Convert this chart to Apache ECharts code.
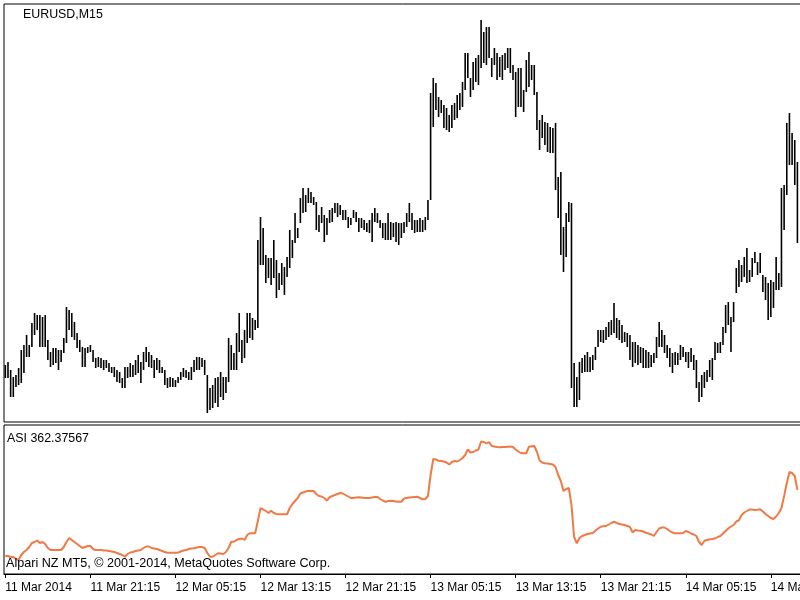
<!DOCTYPE html>
<html>
<head>
<meta charset="utf-8">
<script src="https://cdn.jsdelivr.net/npm/echarts@6/dist/echarts.min.js"></script>
<style>html,body{margin:0;padding:0;background:#fff;}#c{width:800px;height:600px;}</style>
</head>
<body>
<div id="c"></div>
<script>
// ---- data (EURUSD M15, starting 11 Mar 2014 13:15) ----
const startTime = Date.UTC(2014, 2, 11, 13, 15);
const tickLabels = ['11 Mar 2014','11 Mar 21:15','12 Mar 05:15','12 Mar 13:15','12 Mar 21:15','13 Mar 05:15','13 Mar 13:15','13 Mar 21:15','14 Mar 05:15','14 Mar 13:15'];

const highs = [
1.38620,1.38629,1.38605,1.38584,1.38590,1.38611,1.38665,1.38680,1.38710,1.38680,
1.38746,1.38776,1.38770,1.38770,1.38764,1.38770,1.38695,1.38659,1.38671,1.38671,
1.38665,1.38665,1.38701,1.38794,1.38785,1.38776,1.38749,1.38716,1.38695,1.38674,
1.38671,1.38674,1.38680,1.38665,1.38641,1.38644,1.38641,1.38635,1.38635,1.38626,
1.38614,1.38614,1.38605,1.38599,1.38581,1.38614,1.38614,1.38626,1.38620,1.38635,
1.38650,1.38629,1.38659,1.38674,1.38659,1.38650,1.38635,1.38641,1.38635,1.38614,
1.38605,1.38581,1.38584,1.38581,1.38575,1.38584,1.38599,1.38611,1.38605,1.38599,
1.38614,1.38635,1.38644,1.38644,1.38641,1.38635,1.38590,1.38551,1.38560,1.38581,
1.38584,1.38599,1.38584,1.38584,1.38701,1.38680,1.38656,1.38716,1.38776,1.38695,
1.38725,1.38776,1.38776,1.38761,1.38755,1.38995,1.39064,1.39031,1.38950,1.38941,
1.38941,1.38995,1.38935,1.38896,1.38926,1.38914,1.38944,1.39025,1.38995,1.39076,
1.39031,1.39121,1.39151,1.39130,1.39151,1.39139,1.39124,1.39109,1.39070,1.39094,
1.39070,1.39061,1.39085,1.39091,1.39106,1.39106,1.39100,1.39085,1.39085,1.39064,
1.39061,1.39085,1.39079,1.39061,1.39061,1.39055,1.39046,1.39055,1.39076,1.39091,
1.39076,1.39055,1.39046,1.39046,1.39076,1.39049,1.39046,1.39049,1.39046,1.39046,
1.39049,1.39076,1.39106,1.39076,1.39055,1.39055,1.39061,1.39055,1.39064,1.39115,
1.39436,1.39481,1.39466,1.39424,1.39415,1.39400,1.39391,1.39370,1.39400,1.39406,
1.39430,1.39436,1.39469,1.39556,1.39556,1.39481,1.39529,1.39541,1.39550,1.39655,
1.39619,1.39634,1.39634,1.39541,1.39571,1.39556,1.39544,1.39550,1.39556,1.39571,
1.39571,1.39520,1.39499,1.39511,1.39511,1.39445,1.39535,1.39559,1.39520,1.39520,
1.39439,1.39355,1.39370,1.39349,1.39346,1.39334,1.39331,1.39346,1.39184,1.39199,
1.39034,1.39076,1.39109,1.39106,1.38626,1.38584,1.38629,1.38641,1.38650,1.38659,
1.38644,1.38650,1.38674,1.38725,1.38725,1.38725,1.38734,1.38749,1.38755,1.38806,
1.38761,1.38755,1.38740,1.38719,1.38716,1.38710,1.38689,1.38689,1.38680,1.38674,
1.38671,1.38665,1.38659,1.38650,1.38656,1.38704,1.38749,1.38725,1.38710,1.38680,
1.38671,1.38656,1.38659,1.38656,1.38680,1.38674,1.38659,1.38659,1.38671,1.38650,
1.38635,1.38569,1.38590,1.38599,1.38605,1.38635,1.38641,1.38689,1.38686,1.38689,
1.38734,1.38800,1.38809,1.38764,1.38809,1.38911,1.38935,1.38920,1.38944,1.38971,
1.38905,1.38941,1.38959,1.38929,1.38956,1.38890,1.38884,1.38866,1.38875,1.38869,
1.38944,1.38896,1.39151,1.39160,1.39346,1.39376,1.39316,1.39295,1.39229
];
const lows = [
1.38581,1.38581,1.38524,1.38524,1.38554,1.38560,1.38566,1.38596,1.38644,1.38644,
1.38674,1.38710,1.38725,1.38674,1.38674,1.38674,1.38635,1.38614,1.38620,1.38626,
1.38605,1.38629,1.38656,1.38686,1.38725,1.38704,1.38695,1.38671,1.38659,1.38614,
1.38614,1.38656,1.38659,1.38629,1.38611,1.38614,1.38611,1.38605,1.38611,1.38599,
1.38596,1.38584,1.38569,1.38566,1.38551,1.38551,1.38581,1.38584,1.38584,1.38590,
1.38596,1.38566,1.38605,1.38629,1.38614,1.38611,1.38581,1.38605,1.38596,1.38596,
1.38560,1.38551,1.38554,1.38554,1.38554,1.38566,1.38575,1.38584,1.38581,1.38575,
1.38575,1.38599,1.38605,1.38605,1.38614,1.38590,1.38476,1.38485,1.38491,1.38506,
1.38494,1.38524,1.38515,1.38536,1.38569,1.38605,1.38605,1.38605,1.38659,1.38626,
1.38641,1.38686,1.38701,1.38695,1.38725,1.38731,1.38920,1.38920,1.38866,1.38881,
1.38860,1.38881,1.38821,1.38845,1.38860,1.38830,1.38884,1.38911,1.38941,1.38986,
1.39001,1.39046,1.39076,1.39079,1.39106,1.39106,1.39100,1.39025,1.39019,1.39046,
1.38989,1.39010,1.39046,1.39049,1.39076,1.39064,1.39070,1.39055,1.39055,1.39031,
1.39040,1.39061,1.39049,1.39019,1.39031,1.39025,1.39019,1.39016,1.38989,1.39049,
1.39046,1.39031,1.39001,1.38995,1.38995,1.38995,1.39004,1.38989,1.38980,1.39001,
1.39016,1.39034,1.39049,1.39025,1.39016,1.39019,1.39019,1.39019,1.39025,1.39055,
1.39115,1.39334,1.39385,1.39364,1.39376,1.39331,1.39325,1.39319,1.39331,1.39355,
1.39361,1.39385,1.39394,1.39445,1.39481,1.39424,1.39445,1.39469,1.39460,1.39511,
1.39526,1.39520,1.39541,1.39484,1.39520,1.39475,1.39484,1.39475,1.39505,1.39511,
1.39496,1.39475,1.39364,1.39394,1.39394,1.39379,1.39439,1.39454,1.39475,1.39430,
1.39325,1.39265,1.39301,1.39280,1.39259,1.39256,1.39256,1.39145,1.39061,1.38950,
1.38899,1.38944,1.39049,1.38551,1.38494,1.38494,1.38515,1.38596,1.38599,1.38599,
1.38599,1.38605,1.38635,1.38674,1.38689,1.38686,1.38695,1.38704,1.38710,1.38716,
1.38701,1.38695,1.38686,1.38689,1.38674,1.38635,1.38614,1.38626,1.38620,1.38626,
1.38611,1.38611,1.38611,1.38614,1.38626,1.38641,1.38674,1.38674,1.38656,1.38641,
1.38614,1.38596,1.38620,1.38620,1.38635,1.38644,1.38629,1.38611,1.38629,1.38605,
1.38551,1.38509,1.38524,1.38551,1.38569,1.38584,1.38575,1.38635,1.38656,1.38656,
1.38680,1.38716,1.38740,1.38659,1.38749,1.38836,1.38854,1.38869,1.38884,1.38866,
1.38869,1.38884,1.38926,1.38890,1.38896,1.38839,1.38815,1.38755,1.38764,1.38791,
1.38845,1.38845,1.38854,1.39025,1.39130,1.39220,1.39220,1.39160,1.38986
];
const asi = [
98,98,94,94,86,82,102,114,122,134,
150,154,160,150,154,146,130,122,122,122,
122,122,134,154,170,162,154,146,138,130,
134,138,138,126,122,122,122,120,120,118,
116,114,110,106,102,95,106,112,114,118,
120,122,130,136,136,130,128,126,122,118,
114,111,111,111,111,112,116,120,122,126,
128,129,132,134,134,130,110,95,95,102,
109,108,106,114,130,155,155,162,166,168,
162,182,189,189,189,238,289,284,278,270,
279,270,266,265,265,265,265,290,306,318,
330,348,352,356,358,358,358,346,338,336,
330,320,333,338,342,346,350,348,342,336,
330,330,332,333,332,330,330,330,332,334,
334,326,320,315,318,319,318,316,315,315,
328,330,332,333,334,335,330,325,326,338,
422,486,484,479,478,476,472,464,474,478,
476,482,490,502,524,512,514,520,524,556,
554,548,554,538,536,534,533,534,534,535,
536,534,524,516,510,509,509,535,537,538,
515,480,472,469,468,466,464,454,422,398,
358,366,370,302,174,149,170,178,182,186,
188,190,199,208,215,217,218,224,230,235,
230,226,224,222,218,214,192,202,200,199,
196,191,188,184,178,194,208,212,212,206,
198,192,189,189,189,190,198,194,188,184,
178,154,142,159,162,165,166,168,174,178,
188,198,208,216,222,236,241,262,272,278,
284,284,282,283,285,276,266,258,250,246,
256,270,290,338,389,434,430,418,362.37567
];

// ---- build category times ----
const times = highs.map((_, i) => {
  const d = new Date(startTime + i * 15 * 60000);
  return d.toISOString().slice(0, 16).replace('T', ' ');
});
const barData = highs.map((h, i) => [i, h, lows[i]]);

const FONT = 'Liberation Sans';
const tStyle = (size) => ({fontFamily: FONT, fontSize: size, fontWeight: 'normal', color: '#000'});
const chart = echarts.init(document.getElementById('c'), null, {renderer: 'canvas'});
chart.setOption({
  animation: false,
  backgroundColor: '#fff',
  title: [
    {text: 'EURUSD,M15', left: 23, top: 9, padding: 0, textStyle: tStyle(12.4)},
    {text: 'ASI 362.37567', left: 7, top: 433, padding: 0, textStyle: tStyle(12.4)},
    {text: 'Alpari NZ MT5, © 2001-2014, MetaQuotes Software Corp.', left: 6, top: 557, padding: 0, z: 10, textStyle: tStyle(12.6)}
  ],
  grid: [
    {left: 4, top: 4, right: -20, height: 418, show: true, borderColor: '#000', borderWidth: 1, backgroundColor: '#fff', outerBoundsMode: 'none', containLabel: false},
    {left: 4, top: 425, right: -20, height: 149, show: true, borderColor: '#000', borderWidth: 1, backgroundColor: '#fff', outerBoundsMode: 'none', containLabel: false}
  ],
  xAxis: [
    {type: 'category', gridIndex: 0, data: times, max: 306, boundaryGap: true,
     axisLine: {show: false}, axisTick: {show: false}, axisLabel: {show: false}, splitLine: {show: false}},
    {type: 'category', gridIndex: 1, data: times, max: 306, boundaryGap: true,
     axisLine: {show: true, lineStyle: {color: '#000'}},
     axisTick: {show: true, interval: 31, alignWithLabel: true, length: 4, lineStyle: {color: '#000'}},
     axisLabel: {show: true, interval: 31, align: 'left', margin: 8, fontFamily: FONT, fontSize: 12, color: '#000', hideOverlap: false,
       formatter: (v, idx) => tickLabels[Math.round(idx / 32)] || ''},
     splitLine: {show: false}}
  ],
  yAxis: [
    {type: 'value', gridIndex: 0, min: 1.38449, max: 1.39703, show: false, splitLine: {show: false}},
    {type: 'value', gridIndex: 1, min: 26, max: 622, show: false, splitLine: {show: false}}
  ],
  series: [
    {
      type: 'custom', xAxisIndex: 0, yAxisIndex: 0, data: barData, clip: true,
      encode: {x: 0, y: [1, 2]},
      renderItem: function (params, api) {
        const top = api.coord([api.value(0), api.value(1)]);
        const bot = api.coord([api.value(0), api.value(2)]);
        return {type: 'line', shape: {x1: top[0], y1: top[1], x2: bot[0], y2: bot[1]},
                style: {stroke: '#000', lineWidth: 1.6}};
      }
    },
    {
      type: 'line', xAxisIndex: 1, yAxisIndex: 1, data: asi, symbol: 'none', clip: true,
      lineStyle: {color: '#EF7A45', width: 2}
    }
  ]
});
</script>
</body>
</html>
